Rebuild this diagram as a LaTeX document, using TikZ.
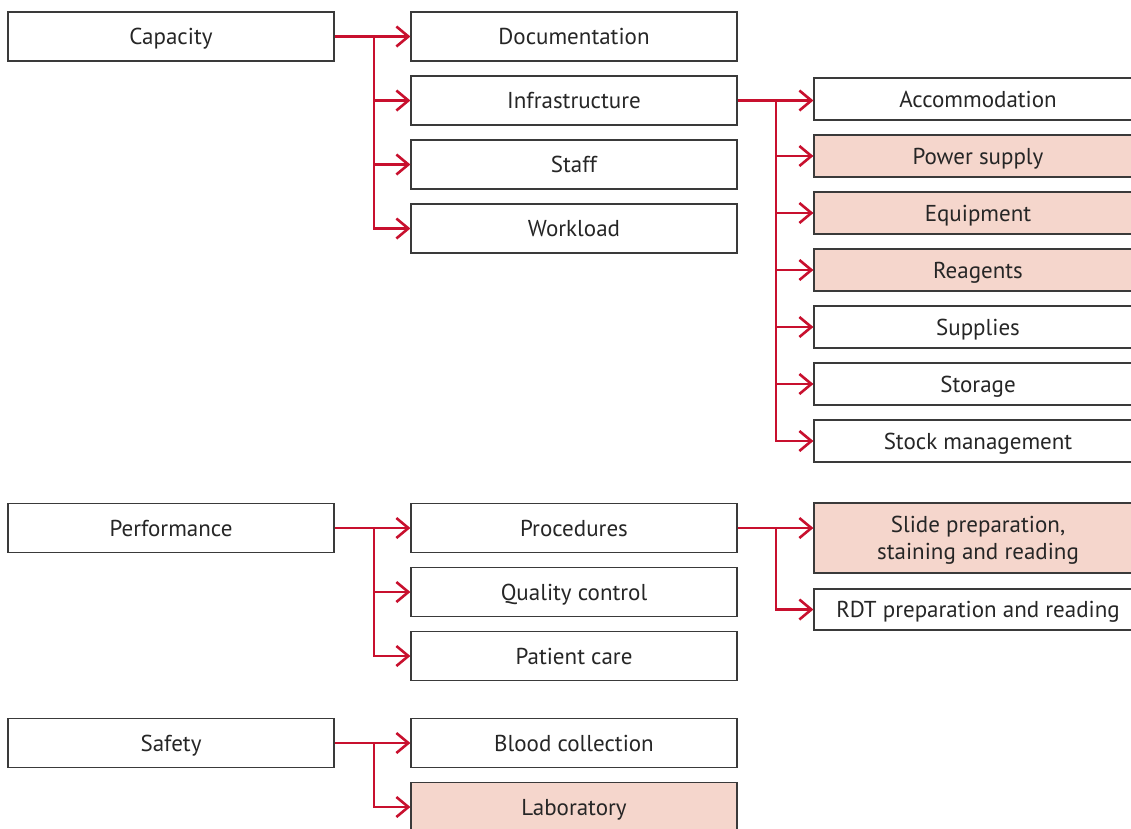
\documentclass[tikz,border=0pt]{standalone}
\usepackage{fontspec}
\setmainfont{PT Sans}
\usetikzlibrary{arrows.meta}
\definecolor{crim}{HTML}{C8102E}
\definecolor{pinkfill}{HTML}{F5D6CC}
\definecolor{boxgray}{HTML}{3A3A3A}
\definecolor{txt}{HTML}{262626}
\tikzset{
  box/.style={draw=boxgray, line width=1.2pt, fill=white, minimum width=326pt, minimum height=49pt, inner sep=0pt, text=txt, font=\fontsize{23}{27}\selectfont, align=center, text height=16pt, text depth=0pt},
  sub/.style={box, minimum width=328pt, minimum height=42pt},
  hl/.style={fill=pinkfill},
  redline/.style={draw=crim, line width=2.6pt},
  conn/.style={redline, -{Straight Barb[length=12pt,width=20pt]}}
}
\begin{document}
\begin{tikzpicture}[x=1pt,y=-1pt]
\useasboundingbox (0,0) rectangle (1131,828);
\clip (0,0) rectangle (1131,828);
% column 1
\node[box] (cap) at (171,36.5) {Capacity};
\node[box] (perf) at (171,528) {Performance};
\node[box] (saf) at (171,743) {Safety};
% column 2
\node[box] (doc) at (574,36.5) {Documentation};
\node[box] (inf) at (574,100.5) {Infrastructure};
\node[box] (staff) at (574,164.5) {Staff};
\node[box] (work) at (574,228.5) {Workload};
\node[box] (proc) at (574,528) {Procedures};
\node[box] (qc) at (574,592) {Quality control};
\node[box] (pc) at (574,656) {Patient care};
\node[box] (blood) at (574,743) {Blood collection};
\node[box,hl] (lab) at (574,807) {Laboratory};
% column 3
\node[sub] (acc) at (978,99) {Accommodation};
\node[sub,hl] (pow) at (978,156) {Power supply};
\node[sub,hl] (equ) at (978,213) {Equipment};
\node[sub,hl] (rea) at (978,270) {Reagents};
\node[sub] (sup) at (978,327) {Supplies};
\node[sub] (sto) at (978,384) {Storage};
\node[sub] (stk) at (978,441) {Stock management};
\node[sub,hl,minimum height=70pt,text height=43pt,text depth=0pt] (slide) at (978,538) {Slide preparation,\\staining and reading};
\node[sub,minimum height=41pt] (rdt) at (978,609.5) {RDT preparation and reading};
% connectors: capacity
\coordinate (b1) at (374,36.5);
\draw[conn] (cap.east) -- (doc.west);
\draw[conn] (b1) |- (inf.west);
\draw[conn] (b1) |- (staff.west);
\draw[conn] (b1) |- (work.west);
% infrastructure
\coordinate (b2) at (776,100.5);
\draw[conn] (inf.east) -- (inf.east -| acc.west);
\draw[conn] (b2) |- (pow.west);
\draw[conn] (b2) |- (equ.west);
\draw[conn] (b2) |- (rea.west);
\draw[conn] (b2) |- (sup.west);
\draw[conn] (b2) |- (sto.west);
\draw[conn] (b2) |- (stk.west);
% performance
\coordinate (b3) at (374,528);
\draw[conn] (perf.east) -- (proc.west);
\draw[conn] (b3) |- (qc.west);
\draw[conn] (b3) |- (pc.west);
% procedures
\coordinate (b4) at (776,528);
\draw[conn] (proc.east) -- (proc.east -| slide.west);
\draw[conn] (b4) |- (rdt.west);
% safety
\coordinate (b5) at (374,743);
\draw[conn] (saf.east) -- (blood.west);
\draw[conn] (b5) |- (lab.west);
\end{tikzpicture}
\end{document}
